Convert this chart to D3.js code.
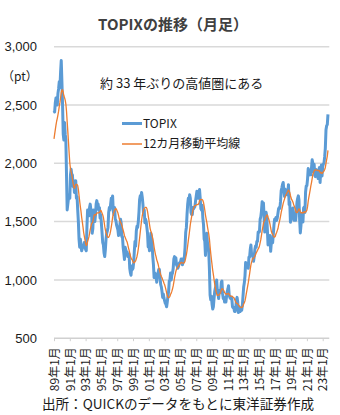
<!DOCTYPE html>
<html><head><meta charset="utf-8">
<script src="https://cdn.jsdelivr.net/npm/d3@7/dist/d3.min.js"></script>
<style>body{margin:0;background:#fff}svg{display:block}</style>
</head><body><svg id="c" width="340" height="415"></svg>
<script>
// Monthly TOPIX, starting 1989/01
const startYear = 1989;
// 1988/02–1988/12, used only for the first 11 points of the 12-month moving average
const topixPrior = [1950,2050,2100,2150,2200,2250,2250,2200,2250,2300,2357];
const topix = [
 2450,2440,2520,2560,2550,2500,2600,2640,2700,2650,2780,2881,
 2700,2500,2250,2200,2350,2250,2200,1900,1600,1650,1700,1730,
 1700,1900,1950,1900,1900,1800,1850,1750,1800,1850,1700,1715,
 1600,1500,1350,1280,1350,1300,1250,1270,1300,1280,1320,1310,
 1260,1250,1450,1600,1580,1550,1620,1650,1600,1600,1400,1440,
 1600,1580,1500,1560,1650,1680,1640,1650,1600,1620,1530,1560,
 1480,1400,1320,1300,1230,1200,1260,1350,1400,1420,1450,1577,
 1620,1600,1650,1700,1680,1720,1590,1560,1620,1520,1510,1470,
 1450,1430,1380,1390,1470,1520,1490,1370,1370,1280,1230,1175,
 1280,1260,1220,1240,1200,1210,1220,1100,1060,1040,1120,1090,
 1100,1150,1250,1330,1290,1420,1460,1450,1500,1580,1690,1722,
 1700,1750,1710,1650,1560,1600,1490,1520,1500,1450,1400,1283,
 1300,1250,1280,1400,1370,1300,1200,1130,1020,1060,1040,1032,
 980,1050,1060,1090,1090,1020,960,940,900,850,880,843,
 820,800,790,770,810,860,900,990,1000,1060,1000,1044,
 1060,1100,1180,1200,1140,1190,1130,1120,1100,1115,1140,1150,
 1150,1180,1180,1130,1150,1180,1200,1280,1410,1450,1560,1650,
 1700,1690,1730,1700,1580,1560,1560,1620,1610,1620,1630,1680,
 1720,1760,1710,1700,1750,1775,1700,1610,1600,1640,1530,1475,
 1350,1330,1210,1320,1400,1320,1300,1240,1090,870,830,860,
 790,750,770,840,900,930,950,1000,910,890,840,908,
 900,895,980,990,880,840,850,810,830,810,860,900,
 920,950,870,850,840,850,840,770,760,765,730,730,
 760,830,850,810,720,770,740,730,740,740,780,860,
 940,975,1035,1150,1135,1130,1130,1100,1195,1195,1260,1300,
 1220,1210,1200,1160,1200,1260,1290,1280,1330,1330,1410,1407,
 1415,1520,1540,1590,1670,1630,1660,1540,1410,1560,1580,1547,
 1430,1300,1350,1340,1380,1245,1320,1330,1320,1390,1470,1520,
 1520,1535,1510,1530,1570,1610,1620,1615,1675,1765,1790,1818,
 1836,1770,1716,1777,1747,1730,1754,1735,1817,1646,1667,1494,
 1567,1608,1591,1617,1512,1551,1565,1511,1587,1667,1700,1721,
 1685,1511,1403,1465,1563,1558,1497,1618,1625,1579,1754,1805,
 1808,1865,1955,1898,1922,1943,1901,1960,2030,2001,1928,1992,
 1895,1886,1946,1899,1912,1870,1940,1963,1835,1929,1985,1892,
 1975,1994,2003,2057,2131,2288,2322,2332,2420
];
const yTicks = [500,1000,1500,2000,2500,3000];
const xTickLabels = ["89年1月","91年1月","93年1月","95年1月","97年1月","99年1月","01年1月","03年1月","05年1月","07年1月","09年1月","11年1月","13年1月","15年1月","17年1月","19年1月","21年1月","23年1月"];
const seriesNames = ["TOPIX","12カ月移動平均線"];
const colors = ["#5b9bd5","#ed7d31"];

// 12-month moving average (definition of the second series)
const full = topixPrior.concat(topix);
const ma = topix.map((_, i) => d3.mean(full.slice(i, i + 12)));

const svg = d3.select("#c");
const latin = "'Liberation Sans','Noto Sans CJK JP',sans-serif";
const cjk = "'Noto Sans CJK JP','Liberation Sans',sans-serif";

const x = d3.scaleLinear().domain([0, 408]).range([54, 322.7]);
const y = d3.scaleLinear().domain([500, 3000]).range([338.2, 46.7]);
const xEnd = x(418);

// gridlines
svg.append("g").selectAll("line").data(yTicks.filter(v => v > 500)).join("line")
  .attr("x1", 54).attr("x2", xEnd)
  .attr("y1", d => y(d)).attr("y2", d => y(d))
  .attr("stroke", "#d9d9d9").attr("stroke-width", 1.5);

// y axis labels
const ya = svg.append("g").attr("transform", "translate(54,0)")
  .call(d3.axisLeft(y).tickValues(yTicks).tickSize(0).tickPadding(17).tickFormat(d3.format(",")));
ya.select(".domain").remove();
ya.selectAll("text").attr("font-family", latin).attr("font-size", 13).attr("fill", "#1a1a1a");

// x axis
const tickMonths = xTickLabels.map((_, i) => i * 24);
const xa = svg.append("g").attr("transform", `translate(0,${y(500)})`)
  .call(d3.axisBottom(x).tickValues(tickMonths).tickSize(3).tickFormat((d, i) => xTickLabels[i]));
xa.select(".domain").remove();
xa.selectAll(".tick line").attr("stroke", "#d0d0d0");
xa.append("line").attr("x1", 54).attr("x2", xEnd).attr("y1", 0).attr("y2", 0)
  .attr("stroke", "#d0d0d0").attr("stroke-width", 1.5);
xa.selectAll("text")
  .attr("transform", "rotate(-90)")
  .attr("x", -9).attr("y", 0).attr("dy", "0.35em")
  .attr("text-anchor", "end")
  .attr("font-family", cjk).attr("font-size", 12).attr("fill", "#1a1a1a");

// lines
const line = d3.line().x((d, i) => x(i)).y(d => y(d));
svg.append("path").datum(topix).attr("d", line)
  .attr("fill", "none").attr("stroke", colors[0]).attr("stroke-width", 3)
  .attr("stroke-linejoin", "round");
svg.append("path").datum(ma).attr("d", line)
  .attr("fill", "none").attr("stroke", colors[1]).attr("stroke-width", 1.3)
  .attr("stroke-linejoin", "round");

// title
svg.append("text").attr("x", 173).attr("y", 30).attr("text-anchor", "middle")
  .attr("font-family", cjk).attr("font-weight", "bold").attr("font-size", 15)
  .attr("fill", "#404040").text("TOPIXの推移（月足）");

// unit
svg.append("text").attr("x", 2).attr("y", 81)
  .attr("font-family", cjk).attr("font-size", 12).attr("fill", "#1a1a1a").text("（pt）");

// annotation
svg.append("text").attr("x", 100).attr("y", 88)
  .attr("font-family", cjk).attr("font-size", 13).attr("fill", "#1a1a1a").text("約 33 年ぶりの高値圏にある");

// legend
const lg = svg.append("g");
seriesNames.forEach((name, i) => {
  const ly = 123.5 + i * 20.5;
  lg.append("line").attr("x1", 122).attr("x2", 142).attr("y1", ly).attr("y2", ly)
    .attr("stroke", colors[i]).attr("stroke-width", i === 0 ? 3 : 1.5);
  lg.append("text").attr("x", 143).attr("y", ly).attr("dy", "0.36em")
    .attr("font-family", cjk).attr("font-size", 12).attr("fill", "#1a1a1a").text(name);
});

// source
svg.append("text").attr("x", 178).attr("y", 409).attr("text-anchor", "middle")
  .attr("font-family", cjk).attr("font-size", 13.6).attr("fill", "#1a1a1a")
  .text("出所：QUICKのデータをもとに東洋証券作成");
</script>
</body></html>
